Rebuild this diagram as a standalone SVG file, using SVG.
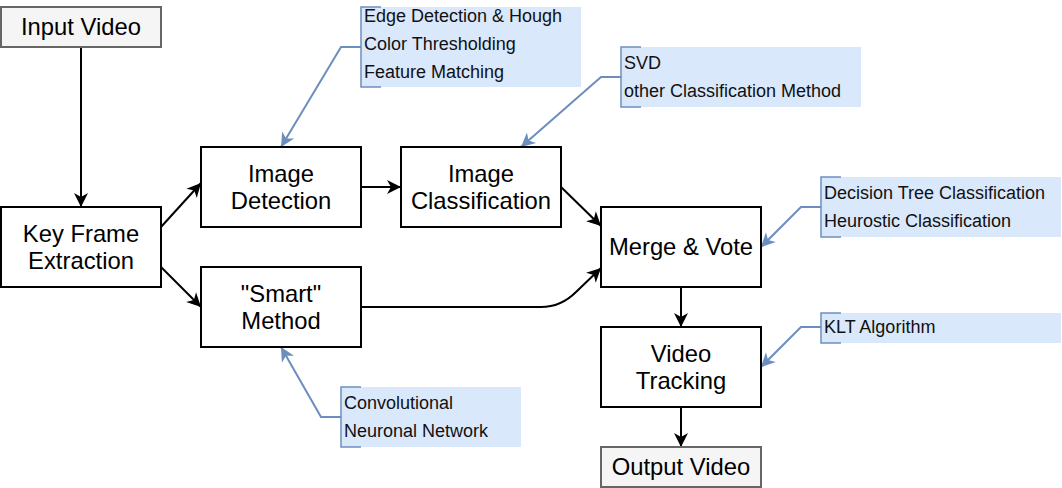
<svg xmlns="http://www.w3.org/2000/svg" width="1062" height="488" viewBox="0 0 1062 488">
<style>
.box{fill:#ffffff;stroke:#000000;stroke-width:2}
.io{fill:#f5f5f5;stroke:#666666;stroke-width:2}
.t{font-family:"Liberation Sans",Arial,sans-serif;font-size:23.8px;fill:#000;text-anchor:middle}
.at{font-family:"Liberation Sans",Arial,sans-serif;font-size:18px;fill:#111;}
.afill{fill:#dae8fc;stroke:none}
.abr{fill:none;stroke:#6c8ebf;stroke-width:1.5}
.e{fill:none;stroke:#000;stroke-width:2;marker-end:url(#ah)}
.b{fill:none;stroke:#6c8ebf;stroke-width:2;marker-end:url(#bh)}
</style>
<defs>
<marker id="ah" markerUnits="userSpaceOnUse" markerWidth="16" markerHeight="16" viewBox="0 0 16 16" refX="15" refY="8" orient="auto">
<path d="M1,1 L15,8 L1,15 L5,8 Z" fill="#000"/>
</marker>
<marker id="bh" markerUnits="userSpaceOnUse" markerWidth="16" markerHeight="16" viewBox="0 0 16 16" refX="15" refY="8" orient="auto">
<path d="M1,1 L15,8 L1,15 L5,8 Z" fill="#6c8ebf"/>
</marker>
</defs>
<g id="connectors">
<path class="e" d="M81,47 L81,207"/>
<path class="e" d="M161,227 L201,183"/>
<path class="e" d="M161,267 L201,307"/>
<path class="e" d="M361,187 L401,187"/>
<path class="e" d="M561,187 L601,226"/>
<path class="e" d="M361,307 L541,307 Q561,307 576,292 L601,268"/>
<path class="e" d="M681,287 L681,327"/>
<path class="e" d="M681,407 L681,447"/>
<path class="b" d="M361,47 L341,47 L281,147"/>
<path class="b" d="M621,77 L601,77 L521,147"/>
<path class="b" d="M821,207 L801,207 L761,247"/>
<path class="b" d="M341,417 L321,417 L281,347"/>
<path class="b" d="M821,327 L801,327 L761,367"/>
</g>
<g id="input-video">
<rect class="io" x="1" y="7" width="160" height="40"/>
<text class="t" x="81" y="35">Input Video</text>
</g>
<g id="key-frame">
<rect class="box" x="1" y="207" width="160" height="80"/>
<text class="t" x="81" y="242">Key Frame</text>
<text class="t" x="81" y="269">Extraction</text>
</g>
<g id="image-detection">
<rect class="box" x="201" y="147" width="160" height="80"/>
<text class="t" x="281" y="182">Image</text>
<text class="t" x="281" y="209">Detection</text>
</g>
<g id="image-classification">
<rect class="box" x="401" y="147" width="160" height="80"/>
<text class="t" x="481" y="182">Image</text>
<text class="t" x="481" y="209">Classification</text>
</g>
<g id="smart-method">
<rect class="box" x="201" y="267" width="160" height="80"/>
<text class="t" x="281" y="302">"Smart"</text>
<text class="t" x="281" y="329">Method</text>
</g>
<g id="merge-vote">
<rect class="box" x="601" y="207" width="160" height="80"/>
<text class="t" x="681" y="255">Merge &amp; Vote</text>
</g>
<g id="video-tracking">
<rect class="box" x="601" y="327" width="160" height="80"/>
<text class="t" x="681" y="362">Video</text>
<text class="t" x="681" y="389">Tracking</text>
</g>
<g id="output-video">
<rect class="io" x="601" y="447" width="160" height="40"/>
<text class="t" x="681" y="475">Output Video</text>
</g>
<g id="note-detection">
<rect class="afill" x="361" y="7" width="220" height="80"/>
<path class="abr" d="M381,7 L361,7 L361,87 L381,87"/>
<text class="at" x="364" y="22">Edge Detection &amp; Hough</text>
<text class="at" x="364" y="50">Color Thresholding</text>
<text class="at" x="364" y="78">Feature Matching</text>
</g>
<g id="note-classification">
<rect class="afill" x="621" y="47" width="240" height="60"/>
<path class="abr" d="M641,47 L621,47 L621,107 L641,107"/>
<text class="at" x="624" y="69">SVD</text>
<text class="at" x="624" y="97">other Classification Method</text>
</g>
<g id="note-merge">
<rect class="afill" x="821" y="177" width="240" height="60"/>
<path class="abr" d="M841,177 L821,177 L821,237 L841,237"/>
<text class="at" x="824" y="199">Decision Tree Classification</text>
<text class="at" x="824" y="227">Heurostic Classification</text>
</g>
<g id="note-smart">
<rect class="afill" x="341" y="387" width="180" height="60"/>
<path class="abr" d="M361,387 L341,387 L341,447 L361,447"/>
<text class="at" x="344" y="409">Convolutional</text>
<text class="at" x="344" y="437">Neuronal Network</text>
</g>
<g id="note-tracking">
<rect class="afill" x="821" y="313" width="240" height="30"/>
<path class="abr" d="M841,313 L821,313 L821,343 L841,343"/>
<text class="at" x="824" y="333">KLT Algorithm</text>
</g>
</svg>
